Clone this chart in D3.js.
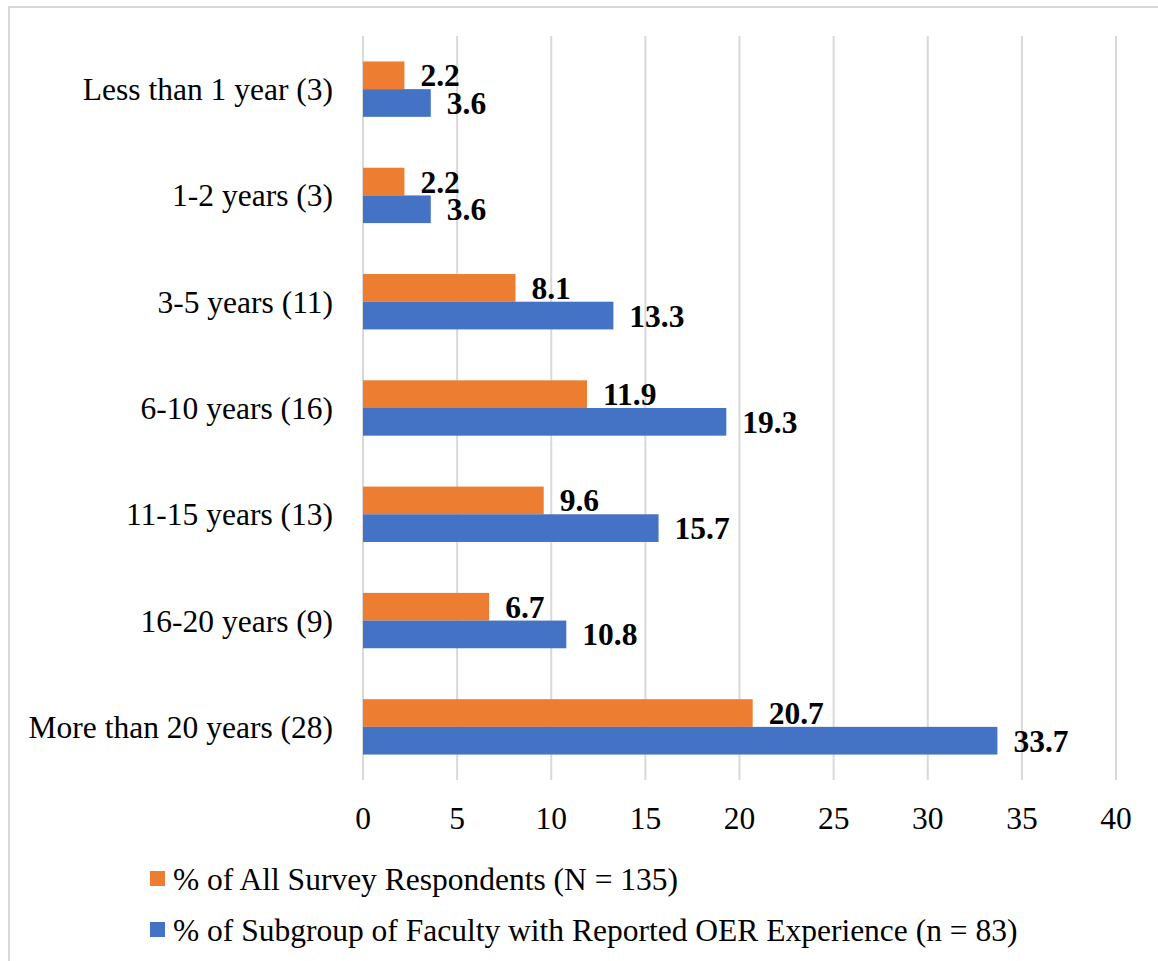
<!DOCTYPE html>
<html>
<head>
<meta charset="utf-8">
<script src="https://cdn.jsdelivr.net/npm/d3@7"></script>
<style>
  body { margin: 0; background: #fff; }
  text { font-family: "Liberation Serif", "Times New Roman", serif; fill: #000; }
</style>
</head>
<body>
<div id="container"></div>
<script>
// Data
const categories = [
  "Less than 1 year (3)",
  "1-2 years (3)",
  "3-5 years (11)",
  "6-10 years (16)",
  "11-15 years (13)",
  "16-20 years (9)",
  "More than 20 years (28)"
];
const allRespondents = [2.2, 2.2, 8.1, 11.9, 9.6, 6.7, 20.7];
const oerSubgroup = [3.6, 3.6, 13.3, 19.3, 15.7, 10.8, 33.7];
const seriesNames = [
  "% of All Survey Respondents (N = 135)",
  "% of Subgroup of Faculty with Reported OER Experience (n = 83)"
];
const tickValues = [0, 5, 10, 15, 20, 25, 30, 35, 40];

const colors = ["#ED7D31", "#4472C4"];
const width = 1158, height = 961;
const margin = { top: 36, left: 363, right: 42, bottom: 181 };
const fontSize = "31.5px";

const svg = d3.select("#container")
  .append("svg")
  .attr("width", width)
  .attr("height", height);

// outer frame (only top and left edges visible)
svg.append("path")
  .attr("d", "M9," + (height + 5) + "V7H" + (width + 5))
  .attr("fill", "none")
  .attr("stroke", "#d9d9d9")
  .attr("stroke-width", 2);

const x = d3.scaleLinear()
  .domain([0, 40])
  .range([margin.left, width - margin.right]);

const y = d3.scaleBand()
  .domain(categories)
  .range([margin.top, height - margin.bottom])
  .paddingInner(0.479)
  .paddingOuter(0.2395);

const y1 = d3.scaleBand()
  .domain([0, 1])
  .range([0, y.bandwidth()]);

// gridlines
svg.append("g")
  .selectAll("line")
  .data(tickValues)
  .enter()
  .append("line")
  .attr("x1", d => x(d))
  .attr("x2", d => x(d))
  .attr("y1", margin.top)
  .attr("y2", height - margin.bottom)
  .attr("stroke", "#d9d9d9")
  .attr("stroke-width", 2);

// x tick labels
svg.append("g")
  .selectAll("text")
  .data(tickValues)
  .enter()
  .append("text")
  .attr("x", d => x(d))
  .attr("y", 829)
  .attr("text-anchor", "middle")
  .style("font-size", fontSize)
  .text(d => d);

// category labels
svg.append("g")
  .selectAll("text")
  .data(categories)
  .enter()
  .append("text")
  .attr("x", margin.left - 30)
  .attr("y", d => y(d) + y.bandwidth() / 2)
  .attr("dy", "0.35em")
  .attr("text-anchor", "end")
  .style("font-size", fontSize)
  .text(d => d);

// bars + labels
const series = [allRespondents, oerSubgroup];
series.forEach(function (vals, i) {
  const g = svg.append("g");
  g.selectAll("rect")
    .data(vals)
    .enter()
    .append("rect")
    .attr("x", x(0))
    .attr("y", (d, j) => y(categories[j]) + y1(i))
    .attr("width", d => x(d) - x(0))
    .attr("height", y1.bandwidth())
    .attr("fill", colors[i]);

  g.selectAll("text")
    .data(vals)
    .enter()
    .append("text")
    .attr("x", d => x(d) + 16)
    .attr("y", (d, j) => y(categories[j]) + y1(i) + y1.bandwidth() / 2)
    .attr("dy", "0.35em")
    .style("font-size", fontSize)
    .style("font-weight", "bold")
    .text(d => d.toFixed(1));
});

// legend
const legend = svg.append("g")
  .selectAll("g")
  .data(seriesNames)
  .enter()
  .append("g")
  .attr("transform", (d, i) => "translate(150," + (871 + i * 51) + ")");

legend.append("rect")
  .attr("width", 15)
  .attr("height", 15)
  .attr("fill", (d, i) => colors[i]);

legend.append("text")
  .attr("x", 23)
  .attr("y", 8)
  .attr("dy", "0.35em")
  .style("font-size", fontSize)
  .text(d => d);
</script>
</body>
</html>
